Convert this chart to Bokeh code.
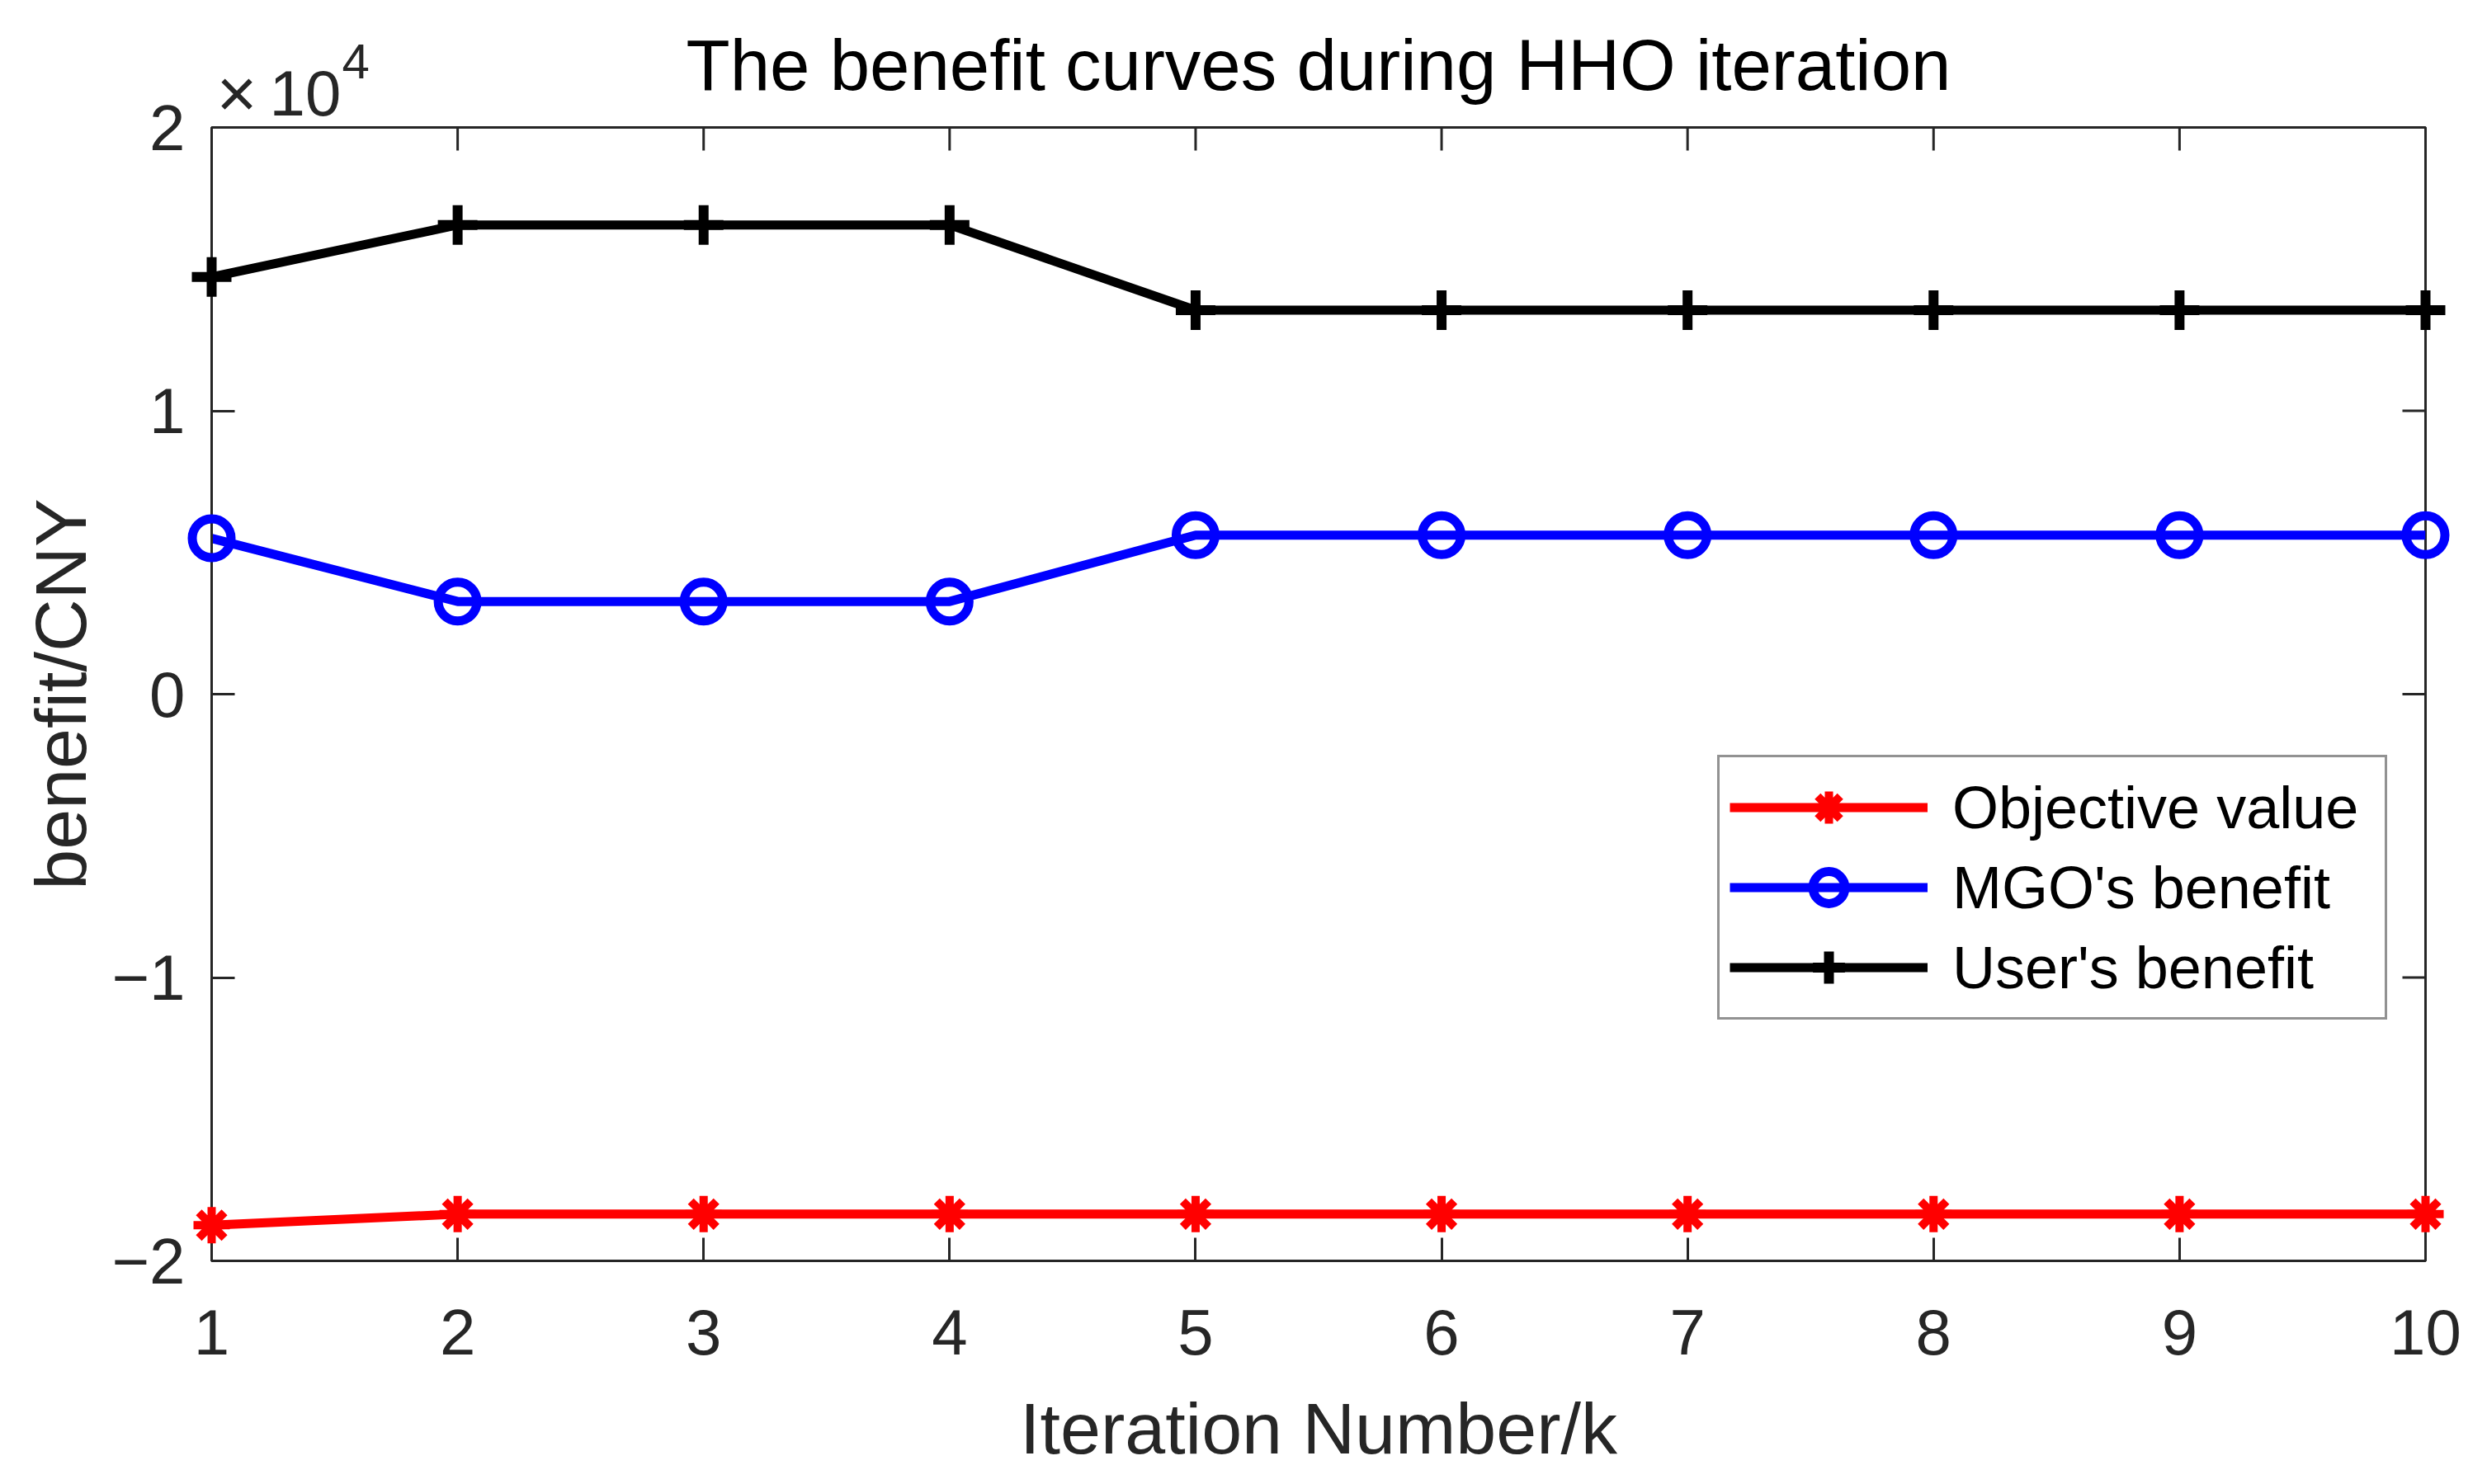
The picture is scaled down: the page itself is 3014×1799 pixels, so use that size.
import math
from bokeh.plotting import figure
from bokeh.models import (FixedTicker, Range1d, Legend, LegendItem)
from bokeh.core.properties import value
from bokeh.embed import file_html
from bokeh.resources import INLINE

# ---------------- data ----------------
iterations = [1, 2, 3, 4, 5, 6, 7, 8, 9, 10]
objective_value = [-18740, -18350, -18350, -18350, -18350, -18350, -18350, -18350, -18350, -18350]
mgo_benefit = [5500, 3270, 3270, 3270, 5610, 5610, 5610, 5610, 5610, 5610]
user_benefit = [14720, 16560, 16560, 16560, 13550, 13550, 13550, 13550, 13550, 13550]

x_ticks = [1, 2, 3, 4, 5, 6, 7, 8, 9, 10]
y_ticks = [-20000, -10000, 0, 10000, 20000]
y_tick_labels = ["\u22122", "\u22121", "0", "1", "2"]
x_min, x_max = 1, 10
y_min, y_max = -20000, 20000

series_names = ["Objective value", "MGO's benefit", "User's benefit"]
title_text = "The benefit curves during HHO iteration"
x_label = "Iteration Number/k"
y_label = "benefit/CNY"
exponent_base = "10"
exponent_power = "4"

FONT = "Liberation Sans"
AX = "#262626"
TICK = 28

W, H = 2998, 1783
p = figure(width=W, height=H, output_backend="svg", toolbar_location=None,
           x_range=Range1d(x_min, x_max), y_range=Range1d(y_min, y_max),
           min_border_left=256, min_border_right=59, min_border_top=154, min_border_bottom=255,
           y_axis_label=y_label)
p.background_fill_color = "white"
p.border_fill_color = "white"
p.grid.visible = False
p.outline_line_color = AX
p.outline_line_width = 3

p.title.text = title_text
p.title.text_font = FONT
p.title.text_font_size = "87px"
p.title.text_font_style = "normal"
p.title.text_color = "black"
p.title.align = "center"
p.title.standoff = 55

xa = p.xaxis[0]
ya = p.yaxis[0]
for ax in (xa, ya):
    ax.axis_line_color = AX
    ax.axis_line_width = 3
    ax.major_tick_line_color = AX
    ax.major_tick_line_width = 3
    ax.major_tick_in = TICK
    ax.major_tick_out = 0
    ax.minor_tick_line_color = None
    ax.major_label_text_font = FONT
    ax.major_label_text_color = AX
    ax.major_label_text_font_size = "78px"
xa.ticker = FixedTicker(ticks=x_ticks)
ya.ticker = FixedTicker(ticks=y_ticks)
ya.major_label_overrides = {t: l for t, l in zip(y_ticks, y_tick_labels)}
xa.major_label_standoff = 59
ya.major_label_standoff = 32
ya.axis_label_text_font = FONT
ya.axis_label_text_font_size = "88px"
ya.axis_label_text_font_style = "normal"
ya.axis_label_text_color = AX
ya.axis_label_standoff = 10

# top and right inward ticks (box on)
p.ray(x=x_ticks, y=[y_max] * len(x_ticks), length=TICK, length_units="screen",
      angle=-math.pi / 2, line_color=AX, line_width=3)
p.ray(x=[x_max] * len(y_ticks), y=y_ticks, length=TICK, length_units="screen",
      angle=math.pi, line_color=AX, line_width=3)

# ---------------- series ----------------
l_obj = p.line(iterations, objective_value, line_color="#ff0000", line_width=11)
m_obj = p.scatter(iterations, objective_value, marker="asterisk", size=44,
                  line_color="#ff0000", line_width=10, level="overlay")
l_mgo = p.line(iterations, mgo_benefit, line_color="#0000ff", line_width=11)
m_mgo = p.scatter(iterations, mgo_benefit, marker="circle", size=47,
                  line_color="#0000ff", line_width=11, fill_color=None, level="overlay")
l_usr = p.line(iterations, user_benefit, line_color="#000000", line_width=11)
m_usr = p.scatter(iterations, user_benefit, marker="cross", size=48,
                  line_color="#000000", line_width=12, level="overlay")

legend = Legend(items=[
    LegendItem(label=series_names[0], renderers=[l_obj, m_obj]),
    LegendItem(label=series_names[1], renderers=[l_mgo, m_mgo]),
    LegendItem(label=series_names[2], renderers=[l_usr, m_usr]),
], location=(1825, 292))
legend.label_text_font = FONT
legend.label_text_font_size = "72px"
legend.label_text_color = "black"
legend.glyph_width = 240
legend.glyph_height = 97
legend.label_height = 97
legend.label_width = 512
legend.label_standoff = 30
legend.spacing = 0
legend.padding = 12
legend.margin = 0
legend.border_line_color = AX
legend.border_line_width = 3
legend.background_fill_color = "white"
legend.background_fill_alpha = 1.0
p.add_layout(legend)

# ---------------- x-axis label and x10^4 exponent (as text glyphs) ----------------
p.text(x=[(x_min + x_max) / 2], y=[y_min], text=[x_label], x_offset=0, y_offset=203,
       text_font=value(FONT), text_font_size="88px", text_color=AX,
       text_align="center", text_baseline="alphabetic", level="overlay")
p.text(x=[x_min], y=[y_max], text=["\u00d7"], x_offset=6, y_offset=-42,
       text_font=value(FONT), text_font_size="84px", text_color=AX,
       text_align="left", text_baseline="alphabetic", level="overlay")
p.text(x=[x_min], y=[y_max], text=[exponent_base], x_offset=70, y_offset=-42,
       text_font=value(FONT), text_font_size="78px", text_color=AX,
       text_align="left", text_baseline="alphabetic", level="overlay")
p.text(x=[x_min], y=[y_max], text=[exponent_power], x_offset=158, y_offset=-80,
       text_font=value(FONT), text_font_size="60px", text_color=AX,
       text_align="left", text_baseline="alphabetic", level="overlay")

open("out.html", "w").write(file_html(p, INLINE))
